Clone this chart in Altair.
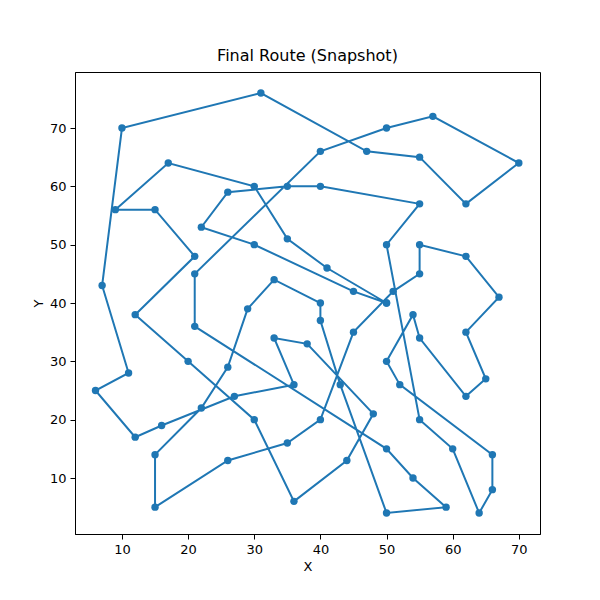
import altair as alt
import pandas as pd

# route order (closed tour)
route_x = [50, 45, 30, 22, 26, 35, 40, 55, 50, 55, 60, 64, 66, 66, 52, 50, 54, 55, 62, 65,
           62, 67, 62, 55, 55, 51, 45, 40, 35, 26, 15, 15, 22, 26, 29, 33, 40, 40, 43, 50,
           59, 54, 50, 21, 21, 40, 50, 57, 70, 62, 55, 47, 31, 10, 7, 11, 6, 12, 16, 27,
           36, 33, 38, 48, 44, 36, 30, 20, 12, 21, 15, 9, 17, 30, 35, 41, 50]
route_y = [40, 42, 50, 53, 59, 60, 60, 57, 50, 20, 15, 4, 8, 14, 26, 30, 38, 34, 24, 27,
           35, 41, 48, 50, 45, 42, 35, 20, 16, 13, 5, 14, 22, 29, 39, 44, 40, 37, 26, 4,
           5, 10, 15, 36, 45, 66, 70, 72, 64, 57, 65, 66, 76, 70, 43, 28, 25, 17, 19, 24,
           26, 34, 33, 21, 13, 6, 20, 30, 38, 48, 56, 56, 64, 60, 51, 46, 40]

df = pd.DataFrame({"x": route_x, "y": route_y, "step": range(len(route_x))})

blue = "#1f77b4"
chart = alt.Chart(df).mark_line(
    color=blue, strokeWidth=2, point=alt.OverlayMarkDef(color=blue, size=55, filled=True, opacity=1)
).encode(
    x=alt.X("x:Q", title="X", scale=alt.Scale(domain=[2.9, 73.2], nice=False, zero=False),
            axis=alt.Axis(values=[10, 20, 30, 40, 50, 60, 70])),
    y=alt.Y("y:Q", title="Y", scale=alt.Scale(domain=[0.4, 79.6], nice=False, zero=False),
            axis=alt.Axis(values=[10, 20, 30, 40, 50, 60, 70])),
    order="step:Q",
).properties(
    width=465, height=462,
    title=alt.TitleParams("Final Route (Snapshot)", fontSize=16, fontWeight="normal",
                          font="DejaVu Sans", color="black", offset=8),
    autosize="none",
    padding={"left": 67, "top": 64, "right": 50, "bottom": 60},
).configure_view(
    stroke="black", strokeWidth=1
).configure_axis(
    grid=False, domainColor="black", tickColor="black", labelColor="black", titleColor="black",
    labelFont="DejaVu Sans", titleFont="DejaVu Sans", labelFontSize=13, titleFontSize=13,
    titleFontWeight="normal", tickSize=5, labelPadding=4,
)

chart.save("out.html", embed_options={"renderer": "svg", "actions": False})
